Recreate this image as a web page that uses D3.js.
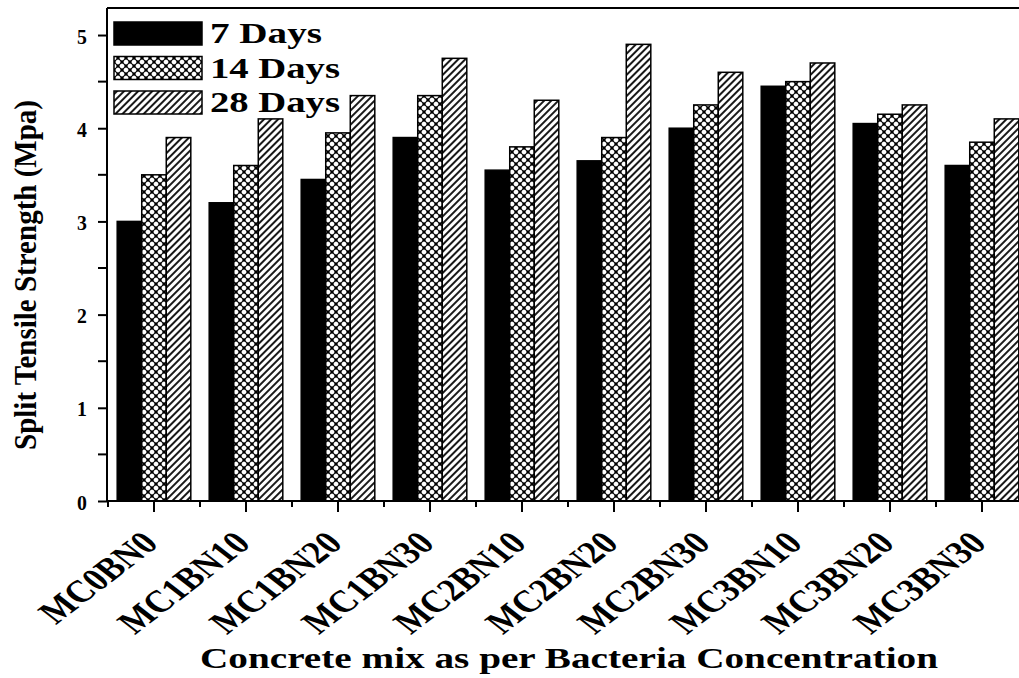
<!DOCTYPE html>
<html>
<head>
<meta charset="utf-8">
<script src="https://cdn.jsdelivr.net/npm/d3@7"></script>
<style>
  html, body { margin: 0; padding: 0; background: #fff; }
  svg { display: block; }
  svg text { font-family: 'Liberation Serif', 'Times New Roman', 'DejaVu Serif', serif; font-weight: bold; fill: #000; }
</style>
</head>
<body>
<div id="chart"></div>
<script>
const categories = ['MC0BN0', 'MC1BN10', 'MC1BN20', 'MC1BN30', 'MC2BN10', 'MC2BN20', 'MC2BN30', 'MC3BN10', 'MC3BN20', 'MC3BN30']
const seriesNames = ['7 Days', '14 Days', '28 Days']
const days7 = [3.0, 3.2, 3.45, 3.9, 3.55, 3.65, 4.0, 4.45, 4.05, 3.6]
const days14 = [3.5, 3.6, 3.95, 4.35, 3.8, 3.9, 4.25, 4.5, 4.15, 3.85]
const days28 = [3.9, 4.1, 4.35, 4.75, 4.3, 4.9, 4.6, 4.7, 4.25, 4.1]
const yTicks = [0, 1, 2, 3, 4, 5]
const yMinorTicks = [0.5, 1.5, 2.5, 3.5, 4.5]

const STRETCH = 1.3   // the figure is stretched sideways
const FILLS = { '7 Days': '#000', '14 Days': 'url(#dots)', '28 Days': 'url(#hatch)' }

const width = 1019
const height = 678
const margin = { top: 8, left: 107, bottom: 177 }
const plotRight = 1028

const svg = d3.select('#chart').append('svg')
  .attr('width', width).attr('height', height)
  .attr('viewBox', `0 0 ${width} ${height}`)

// Patterns
const defs = svg.append('defs')
const hatch = defs.append('pattern')
  .attr('id', 'hatch').attr('patternUnits', 'userSpaceOnUse')
  .attr('width', 5).attr('height', 5)
  .attr('patternTransform', 'rotate(45)')
hatch.append('rect').attr('width', 5).attr('height', 5).attr('fill', '#fff')
hatch.append('line').attr('x1', 1).attr('y1', 0).attr('x2', 1).attr('y2', 5)
  .attr('stroke', '#000').attr('stroke-width', 1.8)

const dots = defs.append('pattern')
  .attr('id', 'dots').attr('patternUnits', 'userSpaceOnUse')
  .attr('width', 8).attr('height', 8)
dots.append('rect').attr('width', 8).attr('height', 8).attr('fill', '#fff')
dots.append('path').attr('d', 'M0,0L8,8M8,0L0,8')
  .attr('stroke', '#000').attr('stroke-width', 1.1)
;[[0, 0], [8, 0], [0, 8], [8, 8], [4, 4]].forEach(([cx, cy]) => {
  dots.append('circle').attr('cx', cx).attr('cy', cy).attr('r', 1.7).attr('fill', '#000')
})

// Scales
const y = d3.scaleLinear().domain([0, 5.29]).range([height - margin.bottom, margin.top])
const x = d3.scaleBand().domain(categories).range([margin.left + 1, plotRight])
  .paddingInner(0.2).paddingOuter(0.1)
const xSub = d3.scaleBand().domain(seriesNames).range([0, x.bandwidth()])

const valuesBySeries = { '7 Days': days7, '14 Days': days14, '28 Days': days28 }
const barData = categories.flatMap((c, i) => seriesNames.map(s => ({ cat: c, series: s, value: valuesBySeries[s][i] })))

// Bars
svg.append('g').attr('class', 'bars')
  .selectAll('rect')
  .data(barData)
  .join('rect')
  .attr('x', d => x(d.cat) + xSub(d.series))
  .attr('y', d => y(d.value))
  .attr('width', xSub.bandwidth())
  .attr('height', d => y(0) - y(d.value))
  .attr('fill', d => FILLS[d.series])
  .attr('stroke', '#000').attr('stroke-width', 1.5)

// Frame top
svg.append('line')
  .attr('x1', margin.left).attr('x2', plotRight)
  .attr('y1', y.range()[1]).attr('y2', y.range()[1])
  .attr('stroke', '#000').attr('stroke-width', 2)

// Y axis
const yAxisG = svg.append('g')
  .attr('transform', `translate(${margin.left},0)`)
  .call(d3.axisLeft(y).tickValues(yTicks).tickSize(9).tickFormat(d3.format('d')))
yAxisG.attr('font-family', null).attr('font-size', null)
yAxisG.select('.domain').attr('stroke-width', 2).attr('d', `M0,${y.range()[0]}V${y.range()[1]}`)
yAxisG.selectAll('.tick line').attr('stroke-width', 2)
yAxisG.selectAll('.tick text')
  .attr('x', 0).attr('dy', 0)
  .attr('transform', `translate(-20,8) scale(0.9,1)`)
  .attr('text-anchor', 'end')
  .style('font-size', '22px')
yAxisG.selectAll('.minor')
  .data(yMinorTicks)
  .join('line').attr('class', 'minor')
  .attr('x1', -9).attr('x2', 0)
  .attr('y1', d => y(d)).attr('y2', d => y(d))
  .attr('stroke', '#000').attr('stroke-width', 2)

// X axis
const xAxisG = svg.append('g')
  .attr('transform', `translate(0,${y(0)})`)
  .call(d3.axisBottom(x).tickSize(11))
xAxisG.attr('font-family', null).attr('font-size', null)
xAxisG.select('.domain').attr('stroke-width', 2).attr('d', `M${margin.left},0H${plotRight}`)
xAxisG.selectAll('.tick line').attr('stroke-width', 2)
// measure at 28px, then draw bigger glyphs in the same length
xAxisG.selectAll('.tick text')
  .attr('y', 0).attr('dy', 0)
  .attr('transform', `translate(6,44) scale(${STRETCH},1) rotate(-45)`)
  .attr('text-anchor', 'end')
  .style('font-size', '28px')
  .each(function () {
    const len = this.getComputedTextLength()
    d3.select(this).style('font-size', '32px')
      .attr('textLength', len).attr('lengthAdjust', 'spacingAndGlyphs')
  })
const step = x.step()
xAxisG.selectAll('.minor')
  .data(categories.map(c => x(c) + x.bandwidth() / 2 - step / 2).concat([x(categories[categories.length - 1]) + x.bandwidth() / 2 + step / 2]))
  .join('line').attr('class', 'minor')
  .attr('x1', d => d).attr('x2', d => d)
  .attr('y1', 0).attr('y2', 6)
  .attr('stroke', '#000').attr('stroke-width', 2)

// Axis titles
svg.append('text')
  .attr('x', 200).attr('y', 668)
  .attr('textLength', 738).attr('lengthAdjust', 'spacingAndGlyphs')
  .style('font-size', '30px')
  .text('Concrete mix as per Bacteria Concentration')

svg.append('text')
  .attr('transform', `translate(36,${(100 + 450) / 2}) rotate(-90)`)
  .attr('text-anchor', 'middle')
  .attr('textLength', 350).attr('lengthAdjust', 'spacingAndGlyphs')
  .style('font-size', '31px')
  .text('Split Tensile Strength (Mpa)')

// Legend
const legendLengths = [112, 130, 130]
const legendG = svg.append('g').attr('transform', 'translate(114,22)')
seriesNames.forEach((s, i) => {
  legendG.append('rect')
    .attr('x', 0).attr('y', i * 34.5)
    .attr('width', 88).attr('height', 23)
    .attr('fill', FILLS[s]).attr('stroke', '#000').attr('stroke-width', 1.5)
  legendG.append('text')
    .attr('x', 96).attr('y', i * 34.5 + 21)
    .attr('textLength', legendLengths[i]).attr('lengthAdjust', 'spacingAndGlyphs')
    .style('font-size', '29px')
    .text(s)
})
</script>
</body>
</html>
